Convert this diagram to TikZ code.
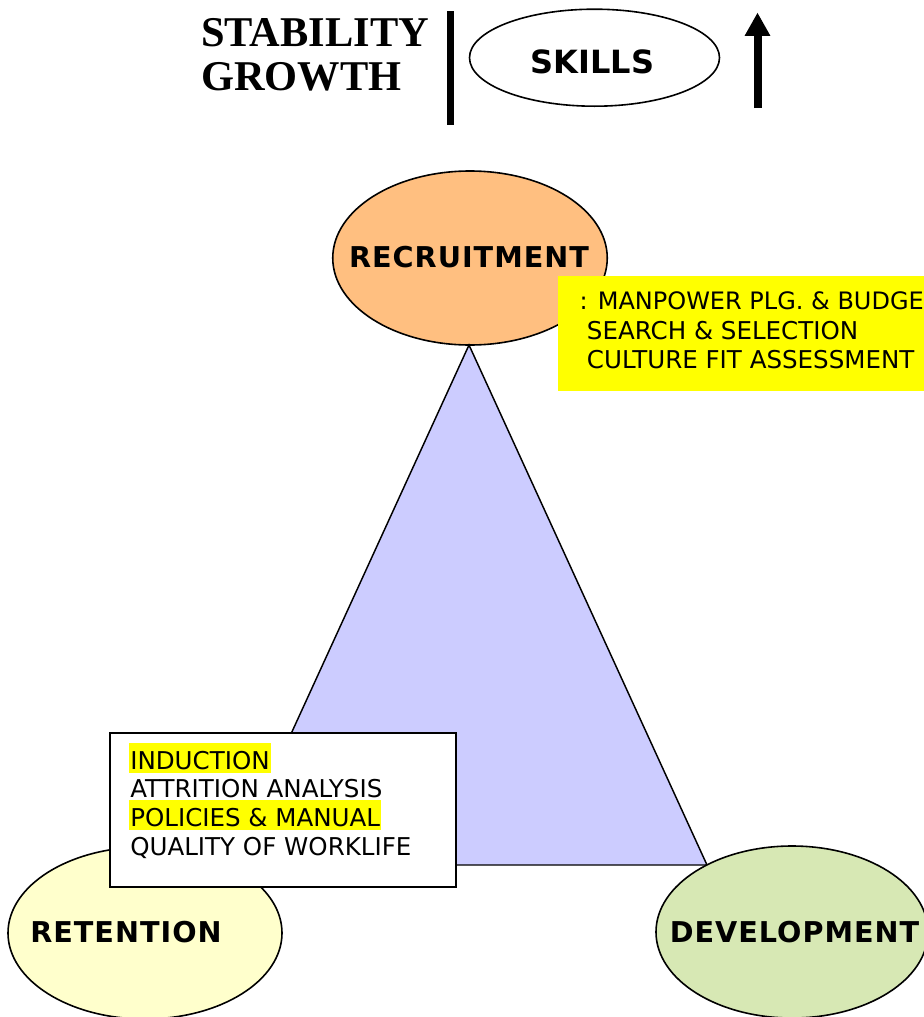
\documentclass[tikz,border=0pt]{standalone}
\usepackage{fontspec}
\setmainfont{Liberation Serif}
\newfontfamily\dv{DejaVu Sans}
\newfontfamily\dvsp[LetterSpace=3.5]{DejaVu Sans}
\usetikzlibrary{arrows.meta,shapes.geometric}
\definecolor{recfill}{HTML}{FFBF80}
\definecolor{retfill}{HTML}{FFFFCC}
\definecolor{devfill}{HTML}{D7E8B4}
\definecolor{trifill}{HTML}{CCCCFF}
\definecolor{hl}{HTML}{FFFF00}
\begin{document}
\begin{tikzpicture}[x=0.75pt,y=-0.75pt,
  blob/.style={draw=black,line width=1.2pt,ellipse,inner sep=0pt},
  bigword/.style={font=\dvsp\bfseries\fontsize{21.5}{24}\selectfont,inner sep=0pt},
  skillword/.style={font=\dv\bfseries\fontsize{24}{28}\selectfont,inner sep=0pt},
  serifword/.style={font=\bfseries\fontsize{31.8}{34}\selectfont,anchor=base west,inner sep=0pt},
  item/.style={font=\dv\fontsize{18.4}{22}\selectfont,anchor=base west,inner xsep=0.75pt,inner ysep=0pt,text height=19.5pt,text depth=3pt},
  hlitem/.style={item,fill=hl}
]
\useasboundingbox (0,0) rectangle (924,1017);
\clip (0,0) rectangle (924,1017);

% header
\node[serifword] (stab) at (201,46) {STABILITY};
\node[serifword] (grow) at (201,90) {GROWTH};
\coordinate (bartop) at (450.5,11);
\coordinate (barbot) at (450.5,125);
\draw[line width=5.25pt] (bartop) -- (barbot);
\node[blob,fill=white,minimum width=250*0.75pt,minimum height=97*0.75pt] (skills) at (594.5,57.7) {};
\node[skillword] (skillstext) at (592.5,62.3) {SKILLS};
\coordinate (arrbot) at (757.5,108);
\coordinate (arrtop) at (757.5,12.5);
\draw[line width=6pt,-{Triangle[width=18pt,length=17.5pt]}] (arrbot) -- (arrtop);

% recruitment
\node[blob,fill=recfill,minimum width=274.5*0.75pt,minimum height=174*0.75pt] (rec) at (470,258) {};
\node[bigword] (rectext) at (469,256.7) {RECRUITMENT};

% triangle
\coordinate (tA) at (469,345);
\coordinate (tB) at (707,865);
\coordinate (tC) at (231,865);
\draw[fill=trifill,line width=1.1pt] (tA) -- (tB) -- (tC) -- cycle;

% yellow box
\node[fill=hl,anchor=north west,inner sep=0pt,minimum width=380*0.75pt,minimum height=115*0.75pt] (ybox) at (558,276) {};
\node[item,font=\dv\fontsize{18}{22}\selectfont] (y1) at (578.3,309.3) {: MANPOWER PLG. \& BUDGE};
\node[item] (y2) at (585.7,339.5) {SEARCH \& SELECTION};
\node[item] (y3) at (585.7,368.5) {CULTURE FIT ASSESSMENT};

% retention
\node[blob,fill=retfill,minimum width=274*0.75pt,minimum height=172*0.75pt] (ret) at (145,933) {};
\node[bigword] (rettext) at (126,932) {RETENTION};

% white box
\node[draw=black,line width=1.5pt,fill=white,anchor=north west,inner sep=0pt,minimum width=346*0.75pt,minimum height=154*0.75pt] (wbox) at (109,732) {};
\node[hlitem] (w1) at (129,769.3) {INDUCTION};
\node[item] (w2) at (129,797) {ATTRITION ANALYSIS};
\node[hlitem] (w3) at (129,826) {POLICIES \& MANUAL};
\node[item] (w4) at (129,855) {QUALITY OF WORKLIFE};

% development
\node[blob,fill=devfill,minimum width=272*0.75pt,minimum height=172*0.75pt] (dev) at (792,932) {};
\node[bigword] (devtext) at (794.5,932) {DEVELOPMENT};
\end{tikzpicture}
\end{document}
